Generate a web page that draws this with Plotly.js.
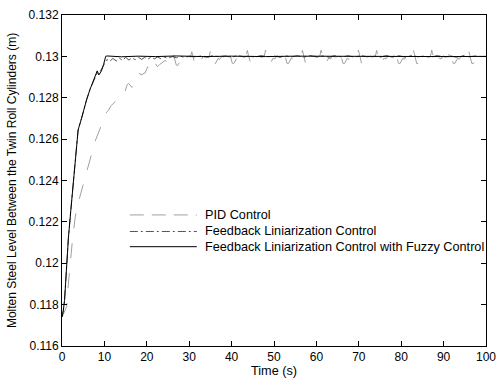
<!DOCTYPE html>
<html>
<head>
<meta charset="utf-8">
<script src="https://cdn.plot.ly/plotly-3.0.1.min.js"></script>
<style>html,body{margin:0;padding:0;background:#fff;}#chart{width:496px;height:383px;}</style>
</head>
<body>
<div id="chart"></div>
<script>
// ---- data ----
const xTickVals = [0,10,20,30,40,50,60,70,80,90,100];
const xTickText = ['0','10','20','30','40','50','60','70','80','90','100'];
const yTickVals = [0.116,0.118,0.12,0.122,0.124,0.126,0.128,0.13,0.132];
const yTickText = ['0.116','0.118','0.12','0.122','0.124','0.126','0.128','0.13','0.132'];

// PID control (light grey long dashes)
const tPID = [
 0,0.5,1.1,1.5,1.9,2.5,3.1,3.6,4.2,4.6,5.0,5.8,6.3,6.6,7.4,8.0,8.6,9.5,10.5,11.0,11.5,12.5,13.0,13.5,14.2,14.9,15.3,15.7,16.5,17.0,17.6,18.2,18.6,19.6,20.2,20.7,21.9,22.5,23.0,24.3,25.0,25.6,
 25.9,26.1,26.2,26.4,26.65,26.95,27.3,27.65,28.0,28.4,28.9,29.4,
 29.7,30.3,30.5,30.6,30.8,31.05,31.35,31.7,32.05,32.4,32.8,33.3,33.8,
 34.1,34.7,34.9,35.0,35.2,35.45,35.75,36.1,36.45,36.8,37.2,37.7,38.2,
 38.5,39.1,39.3,39.4,39.6,39.85,40.15,40.5,40.85,41.2,41.6,42.1,42.6,
 42.8,43.4,43.6,43.7,43.9,44.15,44.45,44.8,45.15,45.5,45.9,46.4,46.9,
 47.1,47.7,47.9,48.0,48.2,48.45,48.75,49.1,49.45,49.8,50.2,50.7,51.2,
 51.4,52.0,52.2,52.3,52.5,52.75,53.05,53.4,53.75,54.1,54.5,55.0,55.5,
 55.8,56.4,56.6,56.7,56.9,57.15,57.45,57.8,58.15,58.5,58.9,59.4,59.9,
 60.2,60.8,61.0,61.1,61.3,61.55,61.85,62.2,62.55,62.9,63.3,63.8,64.3,
 64.6,65.2,65.4,65.5,65.7,65.95,66.25,66.6,66.95,67.3,67.7,68.2,68.7,
 69.0,69.6,69.8,69.9,70.1,70.35,70.65,71.0,71.35,71.7,72.1,72.6,73.1,
 73.3,73.9,74.1,74.2,74.4,74.65,74.95,75.3,75.65,76.0,76.4,76.9,77.4,
 77.7,78.3,78.5,78.6,78.8,79.05,79.35,79.7,80.05,80.4,80.8,81.3,81.8,
 82.0,82.6,82.8,82.9,83.1,83.35,83.65,84.0,84.35,84.7,85.1,85.6,86.1,
 86.3,86.9,87.1,87.2,87.4,87.65,87.95,88.3,88.65,89.0,89.4,89.9,90.4,
 90.6,91.2,91.4,91.5,91.7,91.95,92.25,92.6,92.95,93.3,93.7,94.2,94.7,
 95.0,95.6,95.8,95.9,96.1,96.35,96.65,97.0,97.35,97.7,98.1,98.6,99.1,100
];
const vPID = [
 0.1174,0.1176,0.1179,0.1190,0.1200,0.1212,0.1222,0.1228,0.1232,0.1235,0.1239,0.1245,0.1248,0.1251,0.1256,0.1260,0.1263,0.1268,0.1273,0.1274,0.1276,0.1278,0.1279,0.1281,0.1282,0.1283,0.1286,0.1287,0.1285,0.1287,0.1289,0.1292,0.1291,0.1292,0.1295,0.1293,0.1297,0.1295,0.1296,0.1298,0.1297,0.1298,
 0.12985,0.13005,0.13015,0.13000,0.12975,0.12958,0.12956,0.12966,0.12982,0.12978,0.12994,0.12988,
 0.12990,0.12996,0.13012,0.13022,0.13008,0.12980,0.12962,0.12960,0.12972,0.12988,0.12982,0.13000,0.12994,
 0.12994,0.12999,0.13016,0.13026,0.13010,0.12983,0.12965,0.12963,0.12974,0.12990,0.12985,0.13002,0.12996,
 0.12995,0.13000,0.13018,0.13028,0.13012,0.12985,0.12967,0.12965,0.12976,0.12991,0.12986,0.13003,0.12997,
 0.12996,0.13001,0.13019,0.13029,0.13013,0.12984,0.12967,0.12965,0.12977,0.12992,0.12986,0.13003,0.12997,
 0.12996,0.13000,0.13018,0.13030,0.13014,0.12985,0.12968,0.12966,0.12977,0.12992,0.12987,0.13003,0.12998,
 0.12996,0.13001,0.13019,0.13030,0.13013,0.12985,0.12967,0.12965,0.12976,0.12992,0.12986,0.13004,0.12997,
 0.12997,0.13000,0.13018,0.13029,0.13013,0.12984,0.12966,0.12965,0.12977,0.12991,0.12986,0.13003,0.12997,
 0.12996,0.13001,0.13019,0.13030,0.13012,0.12984,0.12967,0.12966,0.12976,0.12992,0.12987,0.13003,0.12998,
 0.12997,0.13000,0.13018,0.13029,0.13013,0.12985,0.12967,0.12965,0.12977,0.12991,0.12986,0.13004,0.12997,
 0.12996,0.13001,0.13019,0.13030,0.13014,0.12984,0.12966,0.12965,0.12976,0.12992,0.12986,0.13003,0.12997,
 0.12997,0.13000,0.13018,0.13029,0.13013,0.12985,0.12967,0.12966,0.12977,0.12992,0.12987,0.13003,0.12998,
 0.12996,0.13001,0.13019,0.13030,0.13012,0.12984,0.12967,0.12965,0.12976,0.12991,0.12986,0.13004,0.12997,
 0.12997,0.13000,0.13018,0.13029,0.13013,0.12985,0.12966,0.12965,0.12977,0.12992,0.12986,0.13003,0.12997,
 0.12996,0.13001,0.13019,0.13030,0.13014,0.12984,0.12967,0.12966,0.12976,0.12992,0.12987,0.13003,0.12998,
 0.12997,0.13000,0.13018,0.13029,0.13013,0.12985,0.12967,0.12965,0.12977,0.12991,0.12986,0.13004,0.12997,
 0.12996,0.13001,0.13019,0.13030,0.13012,0.12984,0.12966,0.12965,0.12976,0.12992,0.12986,0.13003,0.12997,0.1300
];

// Feedback linearization control (dark dash-dot)
const tFL = [0,0.3,0.6,1.0,1.5,2.1,2.7,3.3,3.8,4.6,5.2,5.8,6.6,7.4,8.3,8.8,9.4,10.0,10.6,11.2,12.0,12.8,13.5,14.3,15.0,15.8,16.5,17.3,18.0,18.8,19.5,20.3,21.0,21.8,22.5,23.3,24.0,25.0,26.0,27.0,28.0,29.0,30.0,
 31.5,33,34.5,35.5,37,38.5,40,41.5,43,44,45.5,47,48.5,50,51.5,52.5,54,55.5,57,58.5,60,61.5,63,64.5,66,67.5,69,70.5,72,73.5,75,76.5,78,79.5,81,82.5,84,85.5,87,88.5,90,91.5,93,94.5,96,97.5,99,100];
const vFL = [0.1174,0.1177,0.1182,0.1198,0.1212,0.1226,0.1240,0.1254,0.12644,0.1270,0.1275,0.1279,0.1284,0.1288,0.1292,0.1292,0.1294,0.1296,0.12985,0.12975,0.12990,0.12978,0.12992,0.12980,0.12995,0.12982,0.12993,0.12984,0.12996,0.12985,0.12995,0.12986,0.12997,0.12988,0.12997,0.12989,0.12998,0.12991,0.12999,0.12993,0.13000,0.12995,0.13001,
 0.12997,0.13003,0.12996,0.13004,0.12998,0.13002,0.12996,0.13004,0.12997,0.13003,0.12996,0.13004,0.12998,0.13002,0.12996,0.13004,0.12997,0.13003,0.12996,0.13004,0.12998,0.13002,0.12996,0.13004,0.12997,0.13003,0.12996,0.13004,0.12998,0.13002,0.12996,0.13004,0.12997,0.13003,0.12996,0.13004,0.12998,0.13002,0.12996,0.13004,0.12997,0.13003,0.12996,0.13004,0.12998,0.13002,0.12999,0.1300];

// Feedback linearization control with fuzzy control (black solid)
const tFuzzy = [0,0.3,0.6,1.0,1.5,2.1,2.7,3.3,3.8,4.6,5.2,5.8,6.6,7.4,8.3,8.7,9.3,9.8,10.3,10.6,14,18,22,27,33,40,48,55,63,70,78,85,92,100];
const vFuzzy = [0.1174,0.1177,0.1182,0.1198,0.1212,0.1226,0.1240,0.1254,0.12644,0.1270,0.1275,0.1279,0.1284,0.1288,0.1293,0.1291,0.1293,0.1296,0.1300,0.13002,0.12998,0.13001,0.12999,0.13002,0.12999,0.13001,0.12999,0.13001,0.13000,0.12999,0.13001,0.13000,0.12999,0.13000];

const names = ['PID Control','Feedback Liniarization Control','Feedback Liniarization Control with Fuzzy Control'];
const colors = ['#a0a0a0','#555555','#000000'];
const dashes = ['14px,8px','8px,3px,2px,3px','solid'];

const FONT = 'Liberation Sans, Arial, Helvetica, sans-serif';

const traces = [
  {x:tPID, y:vPID, name:names[0], mode:'lines', line:{color:colors[0], width:1, dash:'longdash'}},
  {x:tFL, y:vFL, name:names[1], mode:'lines', line:{color:colors[1], width:1, dash:'dashdot'}},
  {x:tFuzzy, y:vFuzzy, name:names[2], mode:'lines', line:{color:colors[2], width:1}}
];

// legend drawn as paper-positioned keys and text
const legX0 = 0.160, legX1 = 0.318, legTextX = 0.336;
const legRows = [0.396, 0.346, 0.300];
const shapes = names.map((n,i)=>({type:'line', xref:'paper', yref:'paper', x0:legX0, x1:legX1, y0:legRows[i], y1:legRows[i],
  line:{color:colors[i], width:1, dash:dashes[i]}}));
const annotations = names.map((n,i)=>({xref:'paper', yref:'paper', x:legTextX, y:legRows[i], xanchor:'left', yanchor:'middle',
  text:n, showarrow:false, font:{family:FONT, size:12.7, color:'#000'}, borderpad:0}));

const layout = {
  width:496, height:383,
  margin:{l:62, r:10, t:15, b:37, pad:0, autoexpand:false},
  paper_bgcolor:'#ffffff', plot_bgcolor:'#ffffff',
  font:{family:FONT, size:12, color:'#000'},
  showlegend:false,
  shapes:shapes, annotations:annotations,
  xaxis:{range:[0,100], tickvals:xTickVals, ticktext:xTickText, ticks:'inside', ticklen:5, tickcolor:'#000',
         showline:true, linecolor:'#000', linewidth:1, mirror:'ticks', showgrid:false, zeroline:false, automargin:true,
         ticklabeloverflow:'allow',
         tickfont:{family:FONT, size:12}, title:{text:'Time (s)', font:{family:FONT, size:12.7}, standoff:0}},
  yaxis:{range:[0.116,0.132], tickvals:yTickVals, ticktext:yTickText, ticks:'inside', ticklen:5, tickcolor:'#000',
         showline:true, linecolor:'#000', linewidth:1, mirror:'ticks', showgrid:false, zeroline:false, automargin:true,
         ticklabeloverflow:'allow',
         tickfont:{family:FONT, size:12},
         title:{text:'Molten Steel Level Between the Twin Roll Cylinders (m)', font:{family:FONT, size:12}, standoff:9}}
};

Plotly.newPlot('chart', traces, layout, {staticPlot:true, displayModeBar:false});
</script>
</body>
</html>
